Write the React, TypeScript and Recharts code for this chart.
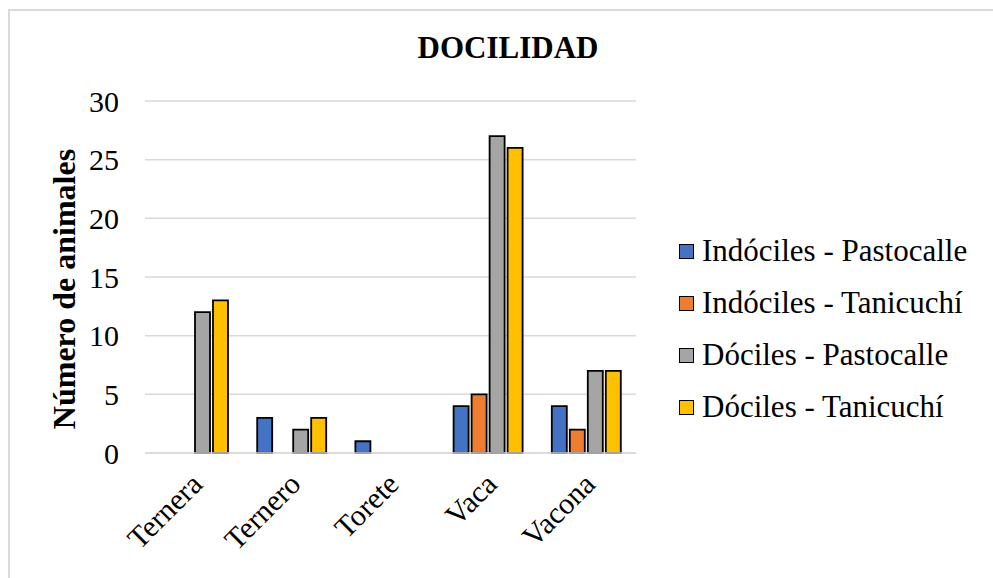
import { BarChart, Bar, XAxis, YAxis, CartesianGrid } from "recharts";

const FONT = "'Liberation Serif', 'Times New Roman', serif";

const categorias = ["Ternera", "Ternero", "Torete", "Vaca", "Vacona"];
const indocilesPastocalle = [0, 3, 1, 4, 4];
const indocilesTanicuchi = [0, 0, 0, 5, 2];
const docilesPastocalle = [12, 2, 0, 27, 7];
const docilesTanicuchi = [13, 3, 0, 26, 7];
const yTicks = [0, 5, 10, 15, 20, 25, 30];

const SERIES = [
  { key: "ip", name: "Indóciles - Pastocalle", color: "#4472C4" },
  { key: "it", name: "Indóciles - Tanicuchí", color: "#ED7D31" },
  { key: "dp", name: "Dóciles - Pastocalle", color: "#A5A5A5" },
  { key: "dt", name: "Dóciles - Tanicuchí", color: "#FFC000" },
];

const data = categorias.map((c, i) => ({
  cat: c,
  ip: indocilesPastocalle[i],
  it: indocilesTanicuchi[i],
  dp: docilesPastocalle[i],
  dt: docilesTanicuchi[i],
}));

// etiquetas del eje X giradas 45°
function XTick({ x, payload }: any) {
  const tx = x + 10;
  const ty = 453 + 33;
  return (
    <text
      x={tx}
      y={ty}
      transform={`rotate(-45 ${tx} ${ty})`}
      textAnchor="end"
      fontFamily={FONT}
      fontSize={30}
      fill="#000"
    >
      {payload.value}
    </text>
  );
}

function Leyenda() {
  return (
    <div
      style={{
        position: "absolute",
        left: 679,
        top: 225,
        fontFamily: FONT,
        fontSize: 31,
        color: "#000",
      }}
    >
      {SERIES.map((s) => (
        <div key={s.key} style={{ display: "flex", alignItems: "center", height: 52 }}>
          <span
            style={{
              width: 13,
              height: 13,
              background: s.color,
              border: "1.5px solid #000",
              display: "inline-block",
              marginRight: 8,
            }}
          />
          <span style={{ whiteSpace: "nowrap" }}>{s.name}</span>
        </div>
      ))}
    </div>
  );
}

export default function App() {
  return (
    <div
      style={{
        position: "fixed",
        top: 0,
        left: 0,
        width: 993,
        height: 578,
        overflow: "hidden",
        background: "#fff",
      }}
    >
      <div
        style={{
          position: "absolute",
          left: 8,
          top: 9,
          width: 1100,
          height: 700,
          borderLeft: "2px solid #d9d9d9",
          borderTop: "2px solid #d9d9d9",
        }}
      />
      <div
        style={{
          position: "absolute",
          left: 0,
          width: 1016,
          top: 30,
          textAlign: "center",
          fontFamily: FONT,
          fontWeight: "bold",
          fontSize: 31,
          color: "#000",
        }}
      >
        DOCILIDAD
      </div>
      <BarChart
        width={993}
        height={578}
        data={data}
        margin={{ top: 101, right: 357, bottom: 95, left: 0 }}
        barCategoryGap={14}
        barGap={3}
        style={{ position: "absolute", left: 0, top: 0 }}
      >
        <CartesianGrid vertical={false} stroke="#d9d9d9" strokeWidth={1.5} />
        <XAxis
          dataKey="cat"
          tick={<XTick />}
          tickLine={false}
          interval={0}
          height={30}
          axisLine={{ stroke: "#d9d9d9", strokeWidth: 1.5 }}
        />
        <YAxis
          width={145}
          domain={[0, 30]}
          ticks={yTicks}
          interval={0}
          tickLine={false}
          axisLine={false}
          tickSize={0}
          tickMargin={26}
          tick={{ fontFamily: FONT, fontSize: 30, fill: "#000" }}
          label={{
            content: () => (
              <text
                x={75}
                y={289}
                transform="rotate(-90 75 289)"
                textAnchor="middle"
                fontFamily={FONT}
                fontWeight="bold"
                fontSize={32}
                fill="#000"
              >
                Número de animales
              </text>
            ),
          }}
        />
        {SERIES.map((s) => (
          <Bar
            key={s.key}
            dataKey={s.key}
            name={s.name}
            fill={s.color}
            stroke="#000"
            strokeWidth={1.8}
            isAnimationActive={false}
          />
        ))}
      </BarChart>
      <Leyenda />
    </div>
  );
}
